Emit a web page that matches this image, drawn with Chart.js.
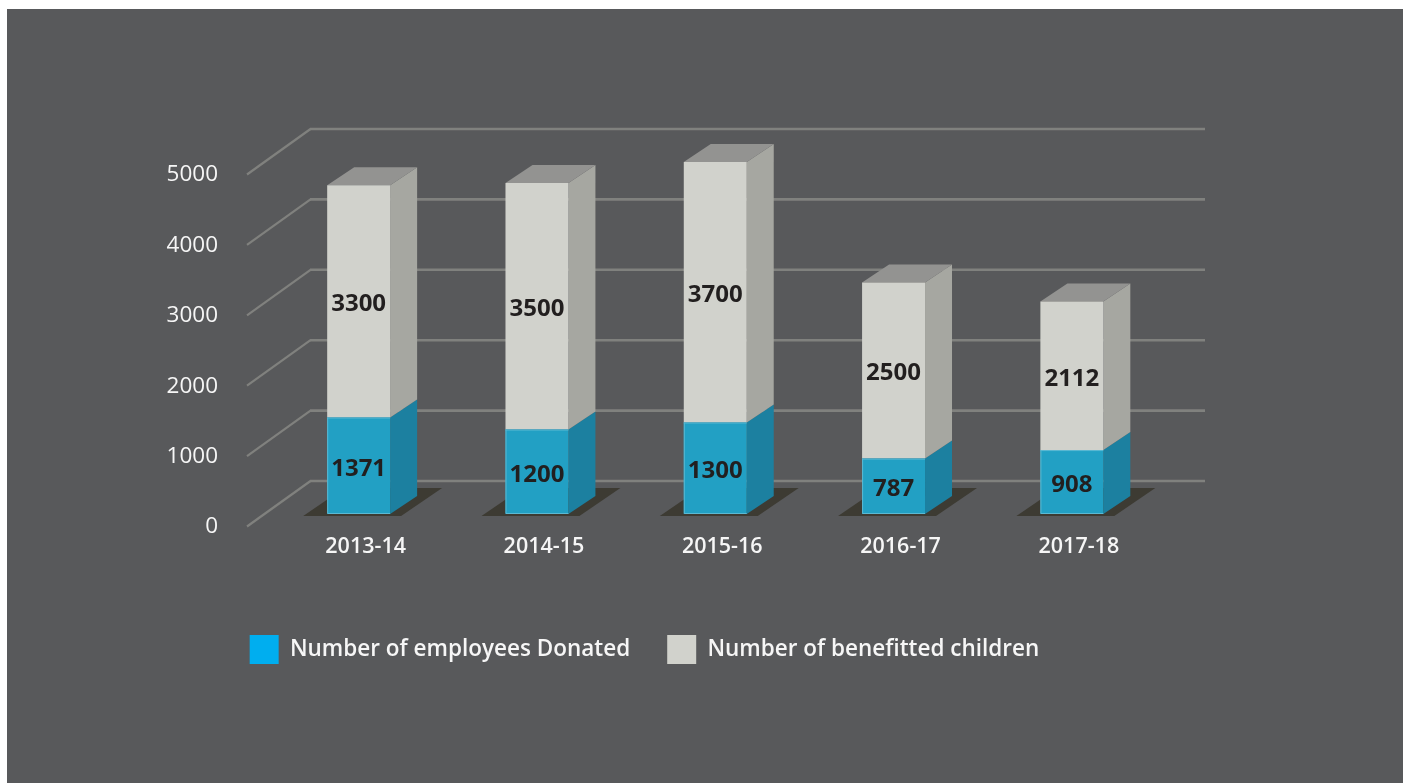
<!DOCTYPE html>
<html>
<head>
<meta charset="utf-8">
<title>Employees donated and children benefitted</title>
<script src="https://cdn.jsdelivr.net/npm/chart.js@4"></script>
<style>
    html, body { margin: 0; padding: 0; background: #fff; overflow: hidden; }
    #wrap { position: relative; width: 1409px; height: 783px; }
    #card { position: absolute; left: 7px; top: 9px; width: 1396px; height: 774px; background: #58595b; }
    #donationChart { position: absolute; left: 0; top: 0; }
</style>
</head>
<body>
<div id="wrap">
    <div id="card"></div>
    <canvas id="donationChart" width="1409" height="783"></canvas>
</div>
<script>
const years = ['2013-14', '2014-15', '2015-16', '2016-17', '2017-18'];
const employeesDonated = [1371, 1200, 1300, 787, 908];
const benefittedChildren = [3300, 3500, 3700, 2500, 2112];
const yTicks = [0, 1000, 2000, 3000, 4000, 5000];

const fontName = '"Open Sans", "Noto Sans", sans-serif';
const gridColor = '#80817e';

// front, side and top colours of each stacked segment
const teal = { front: '#22a0c4', side: '#1c80a0', top: '#1c80a0', edge: '#5cb9d3' };
const stone = { front: '#d1d2cc', side: '#a6a7a1', top: '#939391' };

function poly(ctx, pts, color) {
    ctx.fillStyle = color;
    ctx.beginPath();
    pts.forEach((p, i) => i ? ctx.lineTo(p[0], p[1]) : ctx.moveTo(p[0], p[1]));
    ctx.closePath();
    ctx.fill();
}

// the back wall rules and the slanted floor lines running to the tick labels
const wallPlugin = {
    id: 'wall',
    beforeDatasetsDraw(chart) {
        const { ctx, scales: { y } } = chart;
        ctx.save();
        ctx.strokeStyle = gridColor;
        yTicks.forEach(v => {
            const py = y.getPixelForValue(v);
            ctx.lineWidth = 2.6;
            ctx.beginPath();
            ctx.moveTo(310, py - 33);
            ctx.lineTo(1205, py - 33);
            ctx.stroke();
            ctx.lineWidth = 2.2;
            ctx.beginPath();
            ctx.moveTo(247, py + 12.5);
            ctx.lineTo(310.5, py - 33);
            ctx.stroke();
        });
        ctx.restore();
    }
};

// depth of the columns: floor shadow, right side and top face
const depthPlugin = {
    id: 'depth',
    beforeDatasetsDraw(chart) {
        const { ctx } = chart;
        const dx = 27, dy = -18;
        const lower = chart.getDatasetMeta(0).data;
        const upper = chart.getDatasetMeta(1).data;
        ctx.save();
        lower.forEach(bar => {
            const l = bar.x - bar.width / 2, r = bar.x + bar.width / 2, b = bar.base;
            poly(ctx, [[l - 24, b + 2], [r + 11, b + 2], [r + 52, b - 26], [l + 17, b - 26]], '#3d3b33');
        });
        [[lower, teal], [upper, stone]].forEach(([bars, look]) => {
            bars.forEach(bar => {
                const r = bar.x + bar.width / 2;
                poly(ctx, [[r, bar.base], [r + dx, bar.base + dy], [r + dx, bar.y + dy], [r, bar.y]], look.side);
            });
        });
        upper.forEach(bar => {
            const l = bar.x - bar.width / 2, r = bar.x + bar.width / 2;
            poly(ctx, [[l, bar.y], [r, bar.y], [r + dx, bar.y + dy], [l + dx, bar.y + dy]], stone.top);
        });
        ctx.restore();
    }
};

// thin highlight round the teal fronts, then the value in the middle of each segment
const valueLabels = {
    id: 'valueLabels',
    afterDatasetsDraw(chart) {
        const { ctx } = chart;
        ctx.save();
        ctx.strokeStyle = teal.edge;
        ctx.lineWidth = 1;
        chart.getDatasetMeta(0).data.forEach(bar => {
            const l = bar.x - bar.width / 2, r = bar.x + bar.width / 2;
            ctx.beginPath();
            ctx.moveTo(l + 0.5, bar.y);
            ctx.lineTo(l + 0.5, bar.base - 0.5);
            ctx.lineTo(r, bar.base - 0.5);
            ctx.moveTo(l, bar.y + 0.5);
            ctx.lineTo(r, bar.y + 0.5);
            ctx.stroke();
        });
        ctx.font = '700 24px ' + fontName;
        ctx.fillStyle = '#221f1f';
        ctx.textAlign = 'center';
        ctx.textBaseline = 'middle';
        chart.data.datasets.forEach((ds, i) => {
            chart.getDatasetMeta(i).data.forEach((bar, j) => {
                ctx.fillText(ds.data[j], bar.x, (bar.y + bar.base) / 2 + 3);
            });
        });
        ctx.restore();
    }
};

new Chart(document.getElementById('donationChart').getContext('2d'), {
    type: 'bar',
    data: {
        labels: years,
        datasets: [
            {
                label: 'Number of employees Donated',
                data: employeesDonated,
                backgroundColor: teal.front,
                legendColor: '#00aeef'
            },
            {
                label: 'Number of benefitted children',
                data: benefittedChildren,
                backgroundColor: stone.front,
                legendColor: stone.front
            }
        ]
    },
    options: {
        responsive: false,
        animation: false,
        barPercentage: 0.353,
        categoryPercentage: 1,
        layout: { padding: { left: 128, right: 248, top: 162, bottom: 109 } },
        scales: {
            x: {
                stacked: true,
                grid: { display: false },
                border: { display: false },
                afterFit: scale => { scale.height = 84; },
                ticks: {
                    color: '#f6f6f6',
                    font: { family: fontName, size: 21.5, weight: '600' },
                    padding: 12,
                    labelOffset: 7,
                    maxRotation: 0,
                    autoSkip: false
                }
            },
            y: {
                stacked: true,
                min: 0,
                max: 5000,
                grid: { display: false },
                border: { display: false },
                afterFit: scale => { scale.width = 141.5; },
                ticks: {
                    stepSize: 1000,
                    color: '#f6f6f6',
                    font: { family: fontName, size: 22.5 },
                    padding: 43.5,
                    labelOffset: 13,
                    callback: value => String(value)
                }
            }
        },
        plugins: {
            tooltip: { enabled: false },
            legend: {
                position: 'bottom',
                align: 'center',
                labels: {
                    boxWidth: 29,
                    boxHeight: 29,
                    padding: 37,
                    color: '#f6f6f6',
                    font: { family: fontName, size: 22.5, weight: '600' },
                    generateLabels: chart => chart.data.datasets.map((ds, i) => ({
                        text: ds.label,
                        fillStyle: ds.legendColor,
                        strokeStyle: ds.legendColor,
                        lineWidth: 0,
                        fontColor: '#f6f6f6',
                        datasetIndex: i
                    }))
                }
            }
        }
    },
    plugins: [wallPlugin, depthPlugin, valueLabels]
});
</script>
</body>
</html>
